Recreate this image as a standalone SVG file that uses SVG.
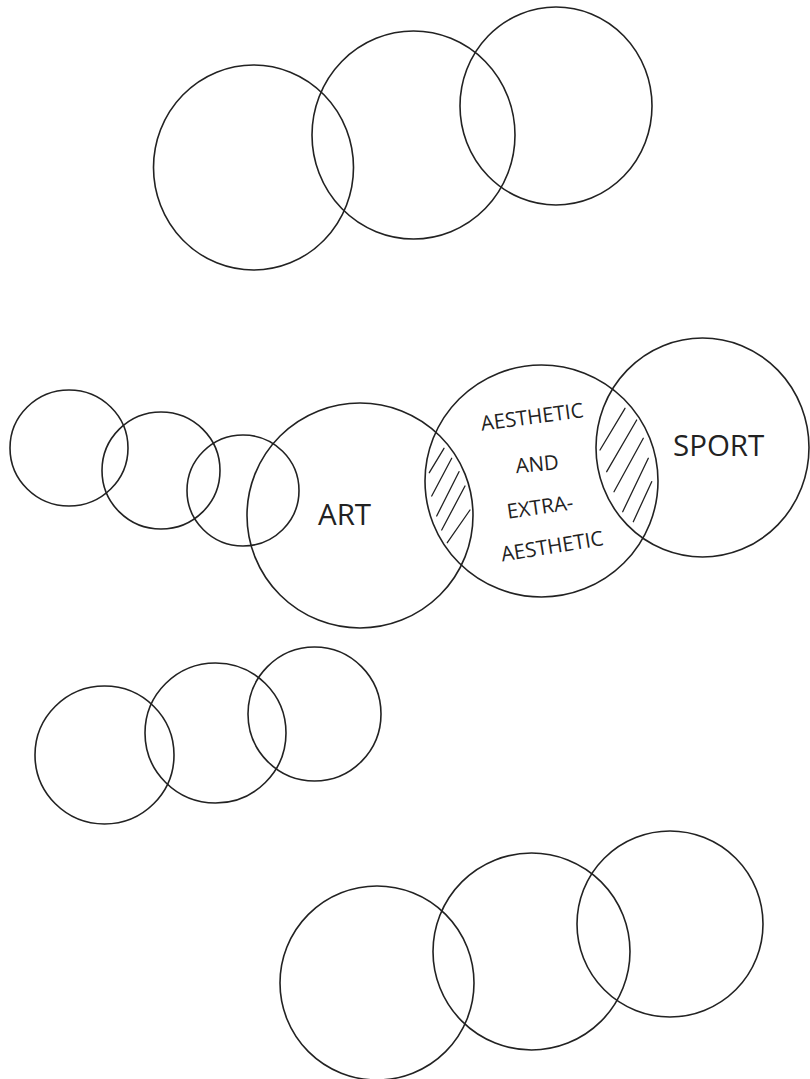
<svg xmlns="http://www.w3.org/2000/svg" width="810" height="1079" viewBox="0 0 810 1079">
<style>
.c{fill:none;stroke:#222;stroke-width:1.6}
.h{stroke:#222;stroke-width:1.3;stroke-linecap:round}
.big{font-family:"Open Sans","Liberation Sans",sans-serif;font-size:29.5px;fill:#222}
.sm{font-family:"Open Sans","Liberation Sans",sans-serif;font-size:20.5px;fill:#222;text-anchor:middle}
</style>
<rect width="810" height="1079" fill="#fff"/>
<g id="top-row">
<g id="t1"><ellipse class="c" cx="253.5" cy="167.5" rx="100" ry="102.5"/></g>
<g id="t2"><ellipse class="c" cx="413.5" cy="135" rx="101.5" ry="104"/></g>
<g id="t3"><ellipse class="c" cx="556" cy="106" rx="96" ry="99"/></g>
</g>
<g id="middle-row">
<g id="m1"><ellipse class="c" cx="69" cy="448" rx="59" ry="58"/></g>
<g id="m2"><ellipse class="c" cx="161" cy="470.5" rx="59" ry="58.5"/></g>
<g id="m3"><ellipse class="c" cx="243" cy="490.5" rx="56" ry="55.5"/></g>
<g id="art"><ellipse class="c" cx="360" cy="515.5" rx="113" ry="112.5"/>
<text class="big" x="318" y="525">ART</text></g>
<g id="aesthetic"><ellipse class="c" cx="541.5" cy="481" rx="116.5" ry="116"/>
<text class="sm" transform="translate(533,423.8) rotate(-7.6)">AESTHETIC</text>
<text class="sm" transform="translate(537.8,471.2) rotate(-5.4)">AND</text>
<text class="sm" transform="translate(541,514) rotate(-8.2)">EXTRA-</text>
<text class="sm" transform="translate(553.3,553.3) rotate(-9.2)">AESTHETIC</text></g>
<g id="sport"><ellipse class="c" cx="702.5" cy="447.5" rx="106.5" ry="109.5"/>
<text class="big" x="673" y="456">SPORT</text></g>
</g>
<g id="hatching">
<line class="h" x1="429.3" y1="472.7" x2="444" y2="448.3"/>
<line class="h" x1="431.7" y1="496" x2="451.7" y2="458.3"/>
<line class="h" x1="436.7" y1="516" x2="459" y2="471.7"/>
<line class="h" x1="441.7" y1="530" x2="465" y2="486"/>
<line class="h" x1="447.3" y1="542.7" x2="470" y2="510"/>
<line class="h" x1="600" y1="450" x2="625" y2="408.3"/>
<line class="h" x1="606.7" y1="471.7" x2="636.7" y2="420"/>
<line class="h" x1="614" y1="491.7" x2="643.3" y2="438.3"/>
<line class="h" x1="622.7" y1="511.7" x2="648.3" y2="458.3"/>
<line class="h" x1="633.3" y1="521.7" x2="651.7" y2="481.7"/>
</g>
<g id="third-row">
<g id="r1"><ellipse class="c" cx="104.5" cy="755" rx="69.5" ry="69"/></g>
<g id="r2"><ellipse class="c" cx="215.5" cy="733" rx="70.5" ry="70"/></g>
<g id="r3"><ellipse class="c" cx="314.5" cy="714" rx="66.5" ry="67"/></g>
</g>
<g id="bottom-row">
<g id="b1"><ellipse class="c" cx="377" cy="983" rx="97" ry="97"/></g>
<g id="b2"><ellipse class="c" cx="531.5" cy="951.5" rx="98.5" ry="98.5"/></g>
<g id="b3"><ellipse class="c" cx="670" cy="924" rx="93" ry="93"/></g>
</g>
<g id="connectors"/>
</svg>
